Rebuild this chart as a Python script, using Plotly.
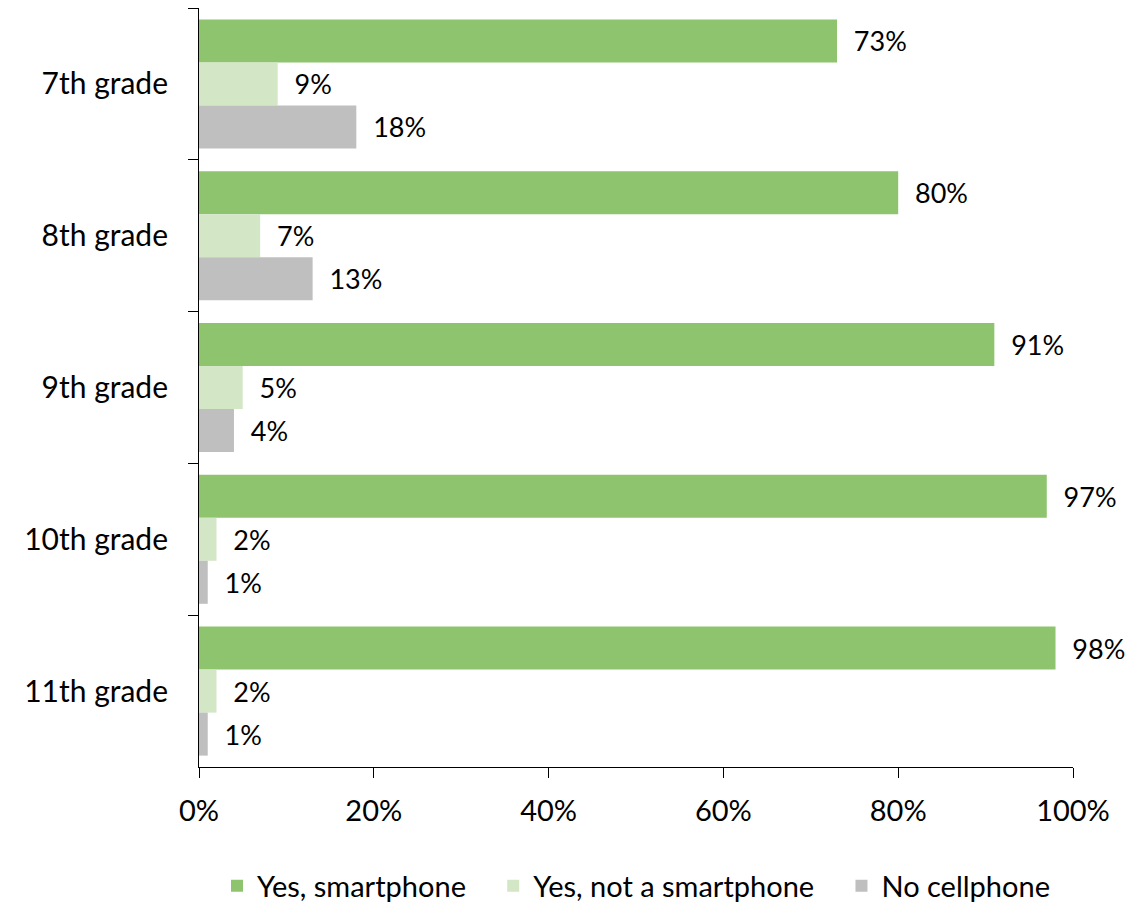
import plotly.graph_objects as go

categories = ["7th grade", "8th grade", "9th grade", "10th grade", "11th grade"]
smartphone = [73, 80, 91, 97, 98]
not_smartphone = [9, 7, 5, 2, 2]
no_cellphone = [18, 13, 4, 1, 1]
series_names = ["Yes, smartphone", "Yes, not a smartphone", "No cellphone"]
colors = ["#8FC46F", "#D3E6C5", "#BFBFBF"]
tick_vals = [0, 20, 40, 60, 80, 100]
tick_text = ["0%", "20%", "40%", "60%", "80%", "100%"]

FONT = "Lato"
PAD = "\u00a0\u00a0\u00a0"

fig = go.Figure()
series = [smartphone, not_smartphone, no_cellphone]
for i, (name, vals, col) in enumerate(zip(series_names, series, colors)):
    label = name + (PAD if i < len(series_names) - 1 else "")
    fig.add_trace(go.Bar(
        y=categories, x=vals, name=label, orientation="h",
        marker=dict(color=col, line=dict(width=0)),
        text=[f"{v}%" for v in vals],
        texttemplate="  %{text}",
        textposition="outside",
        textfont=dict(family=FONT, size=27, color="#000000"),
        cliponaxis=False,
    ))

fig.update_layout(
    width=1132, height=902,
    margin=dict(l=199, r=59, t=8, b=135, autoexpand=False),
    barmode="group", bargap=0.15, bargroupgap=0,
    plot_bgcolor="white", paper_bgcolor="white",
    font=dict(family=FONT, color="#000000"),
    showlegend=True,
    legend=dict(orientation="h", x=0.5, xanchor="center", xref="paper",
                y=16 / 902, yanchor="middle", yref="container",
                font=dict(family=FONT, size=29), traceorder="normal"),
    xaxis=dict(range=[0, 100], tickvals=tick_vals, ticktext=tick_text,
               showgrid=False, zeroline=False, showline=True, linecolor="#000000", linewidth=1,
               ticks="outside", ticklen=10, tickcolor="#000000", ticklabelstandoff=8,
               tickfont=dict(family=FONT, size=29)),
    yaxis=dict(autorange="reversed", showgrid=False, zeroline=False,
               showline=True, linecolor="#000000", linewidth=1,
               ticks="outside", ticklen=10, tickcolor="#000000", tickson="boundaries",
               ticklabelstandoff=24,
               tickfont=dict(family=FONT, size=30)),
)

fig.write_html("out.html")
